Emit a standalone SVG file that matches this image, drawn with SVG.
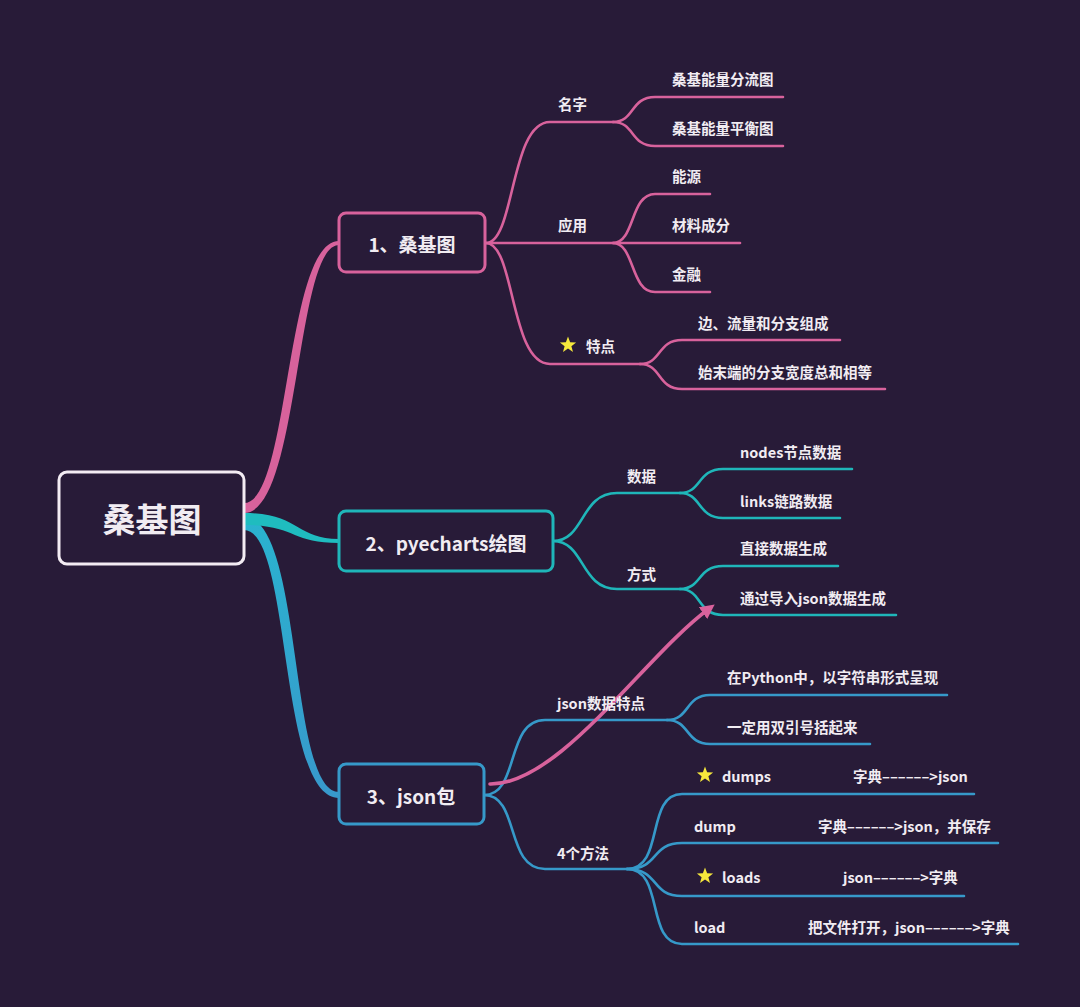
<svg xmlns="http://www.w3.org/2000/svg" width="1080" height="1007" viewBox="0 0 1080 1007">
<defs>
<style>
.t{font-family:"Noto Sans CJK SC","Noto Sans",sans-serif;font-weight:bold;fill:#f1ecf2;font-size:14.5px;dominant-baseline:central}
.n{font-size:19px}
.r{font-size:33px}
.pk{fill:none;stroke:#d8629c;stroke-width:2.6;stroke-linecap:round}
.tl{fill:none;stroke:#1fb6b9;stroke-width:2.6;stroke-linecap:round}
.bl{fill:none;stroke:#3699c9;stroke-width:2.6;stroke-linecap:round}
.box{fill:#281b38;stroke-width:3}
.star{fill:#f6e83c}
</style>
<linearGradient id="gb" x1="0" y1="0" x2="0" y2="1">
<stop offset="0" stop-color="#2ab3cf"/>
<stop offset="1" stop-color="#3899cc"/>
</linearGradient>
<marker id="ah" viewBox="0 0 10 10" refX="6" refY="5" markerWidth="4" markerHeight="4" orient="auto" markerUnits="strokeWidth">
<path d="M0,0 L10,5 L0,10 Z" fill="#d8629c"/>
</marker>
</defs>
<rect x="0" y="0" width="1080" height="1007" fill="#281b38"/>
<g id="connectors">
<path d="M244,517 C304,517 288,792 339,792 L339,798 C278,798 292,530 244,530 Z" fill="url(#gb)"/>
<path d="M244,513 C300,513 295,539 339,539 L339,543 C290,543 296,525 244,525 Z" fill="#1fbcbf"/>
<path d="M244,503 C290,503 285,241 339,241 L339,245 C295,245 300,513 244,513 Z" fill="#d8629c"/>
<path class="pk" d="M486,243 C515,243 510,122 550,122 L613,122"/>
<path class="pk" d="M486,243 L740,243"/>
<path class="pk" d="M486,243 C515,243 510,364 550,364 L640,364"/>
<path class="pk" d="M613,122 C635,122 630,97 655,97 L783,97"/>
<path class="pk" d="M613,122 C635,122 630,146 655,146 L783,146"/>
<path class="pk" d="M613,243 C635,243 630,194 655,194 L710,194"/>
<path class="pk" d="M613,243 C635,243 630,292 655,292 L710,292"/>
<path class="pk" d="M640,364 C662,364 657,340 682,340 L840,340"/>
<path class="pk" d="M640,364 C662,364 657,389 682,389 L885,389"/>
<path class="tl" d="M553,541 C585,541 580,493 617,493 L680,493"/>
<path class="tl" d="M553,541 C585,541 580,589 617,589 L680,589"/>
<path class="tl" d="M680,493 C702,493 697,469 723,469 L852,469"/>
<path class="tl" d="M680,493 C702,493 697,518 723,518 L840,518"/>
<path class="tl" d="M680,589 C702,589 697,566 723,566 L838,566"/>
<path class="tl" d="M680,589 C702,589 697,615 723,615 L896,615"/>
<path class="bl" d="M484,795 C520,795 505,720 545,720 L667,720"/>
<path class="bl" d="M484,795 C520,795 505,869 545,869 L627,869"/>
<path class="bl" d="M667,720 C690,720 685,695 710,695 L947,695"/>
<path class="bl" d="M667,720 C690,720 685,744 710,744 L870,744"/>
<path class="bl" d="M627,869 C665,869 645,794 682,794 L974,794"/>
<path class="bl" d="M627,869 C660,869 650,843 682,843 L998,843"/>
<path class="bl" d="M627,869 C660,869 650,896 682,896 L964,896"/>
<path class="bl" d="M627,869 C665,869 645,944 682,944 L1018,944"/>
<path d="M490,784 C560,785 645,655 710,608" fill="none" stroke="#d8629c" stroke-width="3.6" stroke-linecap="round" marker-end="url(#ah)"/>
</g>
<g id="root">
<rect class="box" x="59" y="472" width="185" height="92" rx="8" stroke="#f3ecf3"/>
<text class="t r" x="152" y="518" text-anchor="middle">桑基图</text>
</g>
<g id="n1">
<rect class="box" x="339" y="213" width="146" height="59" rx="7" stroke="#d8629c"/>
<text class="t n" x="412" y="243" text-anchor="middle">1、桑基图</text>
</g>
<g id="n2">
<rect class="box" x="339" y="511" width="214" height="60" rx="7" stroke="#1fb6b9"/>
<text class="t n" x="446" y="542" text-anchor="middle">2、pyecharts绘图</text>
</g>
<g id="n3">
<rect class="box" x="339" y="764" width="145" height="60" rx="7" stroke="#3699c9"/>
<text class="t n" x="411" y="795" text-anchor="middle">3、json包</text>
</g>
<g id="n1-children">
<text class="t" x="558" y="103">名字</text>
<text class="t" x="672" y="78">桑基能量分流图</text>
<text class="t" x="672" y="127">桑基能量平衡图</text>
<text class="t" x="558" y="224">应用</text>
<text class="t" x="672" y="175">能源</text>
<text class="t" x="672" y="224">材料成分</text>
<text class="t" x="672" y="273">金融</text>
<polygon class="star" points="568,336.5 570.1,342.2 576.1,342.4 571.4,346.2 573,352 568,348.6 563,352 564.6,346.2 559.9,342.4 565.9,342.2"/>
<text class="t" x="586" y="345">特点</text>
<text class="t" x="698" y="322">边、流量和分支组成</text>
<text class="t" x="698" y="371">始末端的分支宽度总和相等</text>
</g>
<g id="n2-children">
<text class="t" x="627" y="475">数据</text>
<text class="t" x="740" y="451">nodes节点数据</text>
<text class="t" x="740" y="500">links链路数据</text>
<text class="t" x="627" y="573">方式</text>
<text class="t" x="740" y="547">直接数据生成</text>
<text class="t" x="740" y="597">通过导入json数据生成</text>
</g>
<g id="n3-children">
<text class="t" x="557" y="702">json数据特点</text>
<text class="t" x="727" y="676">在Python中，以字符串形式呈现</text>
<text class="t" x="727" y="726">一定用双引号括起来</text>
<text class="t" x="557" y="852">4个方法</text>
<polygon class="star" points="705,766.5 707.1,772.2 713.1,772.4 708.4,776.2 710,782 705,778.6 700,782 701.6,776.2 696.9,772.4 702.9,772.2"/>
<text class="t" x="722" y="775">dumps</text>
<text class="t" x="853" y="775">字典––––––&gt;json</text>
<text class="t" x="694" y="825">dump</text>
<text class="t" x="818" y="825">字典––––––&gt;json，并保存</text>
<polygon class="star" points="705,867.5 707.1,873.2 713.1,873.4 708.4,877.2 710,883 705,879.6 700,883 701.6,877.2 696.9,873.4 702.9,873.2"/>
<text class="t" x="722" y="876">loads</text>
<text class="t" x="843" y="876">json––––––&gt;字典</text>
<text class="t" x="694" y="926">load</text>
<text class="t" x="808" y="926">把文件打开，json––––––&gt;字典</text>
</g>
</svg>
